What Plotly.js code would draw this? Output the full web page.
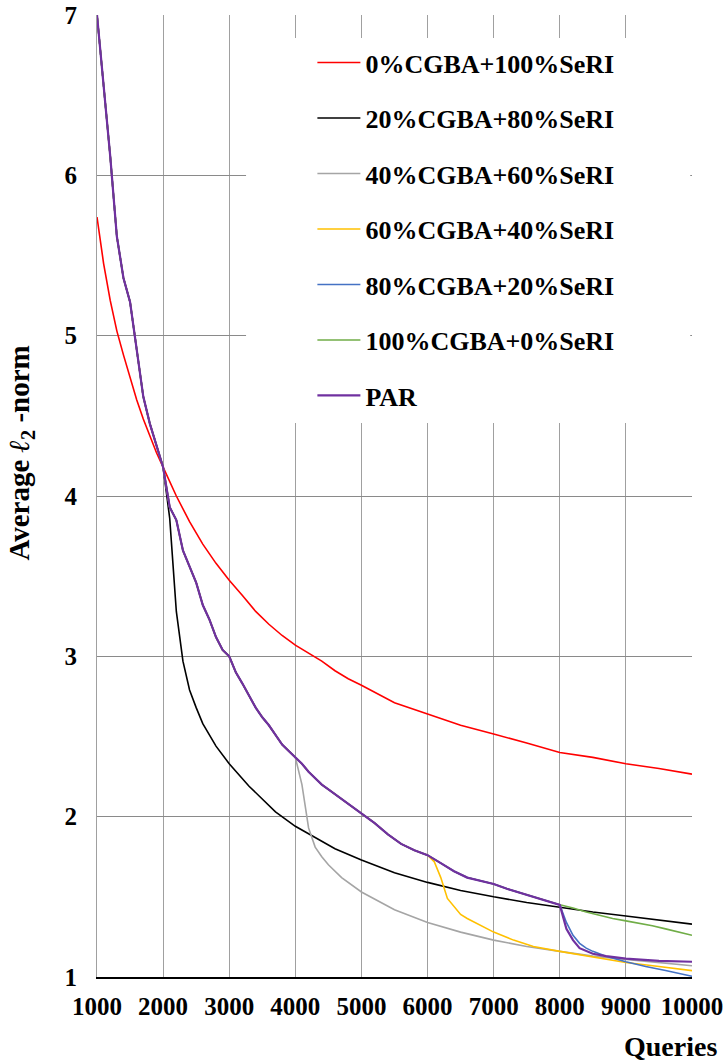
<!DOCTYPE html>
<html>
<head>
<meta charset="utf-8">
<script src="https://cdn.plot.ly/plotly-3.0.1.min.js"></script>
<style>
html,body{margin:0;padding:0;background:#fff;}
#chart{width:727px;height:1064px;}
#chart svg text, #chart svg tspan { font-family: "Liberation Serif", "Times New Roman", "DejaVu Serif" !important; }
</style>
</head>
<body>
<div id="chart"></div>
<script>
// ---- data ----
const seriesNames = ["0%CGBA+100%SeRI","20%CGBA+80%SeRI","40%CGBA+60%SeRI","60%CGBA+40%SeRI","80%CGBA+20%SeRI","100%CGBA+0%SeRI","PAR"];

// shared path (CGBA-driven run), 1000 .. 8000 queries
const baseX = [1000,1100,1200,1300,1400,1500,1600,1700,1800,1900,2000,2100,2200,2300,2400,2500,2600,2700,2800,2900,3000,3100,3200,3300,3400,3500,3600,3700,3800,3900,4000,4100,4200,4300,4400,4500,4600,4700,4800,4900,5000,5200,5400,5600,5800,6000,6200,6400,6600,6800,7000,7200,7400,7600,7800,8000];
const baseY = [7.00,6.56,6.12,5.62,5.36,5.21,4.92,4.62,4.45,4.32,4.18,3.93,3.85,3.66,3.56,3.46,3.32,3.23,3.12,3.04,3.00,2.90,2.83,2.75,2.68,2.62,2.57,2.51,2.45,2.41,2.37,2.33,2.28,2.24,2.20,2.17,2.14,2.11,2.08,2.05,2.02,1.96,1.89,1.83,1.79,1.76,1.71,1.66,1.62,1.60,1.58,1.55,1.525,1.50,1.475,1.45];

// 0%CGBA+100%SeRI
const redX = [1000,1100,1200,1300,1400,1500,1600,1700,1800,1900,2000,2200,2400,2600,2800,3000,3200,3400,3600,3800,4000,4200,4400,4600,4800,5000,5500,6000,6500,7000,7500,8000,8500,9000,9500,10000];
const redY = [5.74,5.45,5.22,5.03,4.88,4.74,4.60,4.48,4.37,4.27,4.18,4.00,3.84,3.70,3.58,3.475,3.38,3.28,3.20,3.13,3.07,3.02,2.97,2.91,2.86,2.82,2.71,2.64,2.57,2.515,2.46,2.40,2.37,2.33,2.30,2.265];

// 20%CGBA+80%SeRI : branch after 2000
const blackTailX = [2100,2200,2300,2400,2500,2600,2800,3000,3300,3700,4000,4300,4600,5000,5500,6000,6500,7000,7500,8000,8500,9000,9500,10000];
const blackTailY = [3.86,3.28,2.97,2.79,2.68,2.58,2.44,2.33,2.19,2.03,1.94,1.87,1.80,1.73,1.65,1.59,1.54,1.50,1.465,1.435,1.405,1.38,1.355,1.33];

// 40%CGBA+60%SeRI : branch after 4000
const grayTailX = [4100,4200,4300,4400,4500,4700,5000,5500,6000,6500,7000,7500,8000,8500,9000,9500,10000];
const grayTailY = [2.20,1.93,1.81,1.75,1.70,1.62,1.53,1.42,1.34,1.28,1.23,1.19,1.16,1.13,1.11,1.09,1.07];

// 60%CGBA+40%SeRI : branch after 6000
const yellowTailX = [6100,6200,6300,6400,6500,6600,6800,7000,7300,7600,8000,8500,9000,9500,10000];
const yellowTailY = [1.72,1.62,1.49,1.44,1.39,1.365,1.32,1.28,1.23,1.19,1.16,1.125,1.09,1.065,1.04];

// 80%CGBA+20%SeRI : branch after 8000
const blueTailX = [8100,8200,8300,8400,8500,8700,9000,9300,9600,10000];
const blueTailY = [1.34,1.26,1.21,1.18,1.16,1.13,1.095,1.065,1.04,1.005];

// 100%CGBA+0%SeRI : continues after 8000
const greenTailX = [8200,8400,8600,8800,9000,9200,9400,9600,9800,10000];
const greenTailY = [1.43,1.405,1.385,1.365,1.35,1.335,1.32,1.30,1.28,1.26];

// PAR : after 8000
const parTailX = [8100,8200,8300,8400,8500,8700,9000,9500,10000];
const parTailY = [1.30,1.23,1.18,1.16,1.145,1.13,1.115,1.10,1.095];

const xTicks = [1000,2000,3000,4000,5000,6000,7000,8000,9000,10000];
const yTicks = [1,2,3,4,5,6,7];

// ---- build series ----
function branch(upTo, tx, ty) {
  const n = baseX.indexOf(upTo) + 1;
  return {x: baseX.slice(0, n).concat(tx), y: baseY.slice(0, n).concat(ty)};
}
const blackS = branch(2000, blackTailX, blackTailY);
const grayS = branch(4000, grayTailX, grayTailY);
const yellowS = branch(6000, yellowTailX, yellowTailY);
const blueS = branch(8000, blueTailX, blueTailY);
const greenS = branch(8000, greenTailX, greenTailY);
const parS = branch(8000, parTailX, parTailY);

const colors = ["#FF0000","#000000","#A5A5A5","#FFC000","#4472C4","#70AD47","#7030A0"];
const widths = [1.6,1.6,1.6,1.6,1.6,1.6,2.2];
const seriesData = [{x: redX, y: redY}, blackS, grayS, yellowS, blueS, greenS, parS];

const traces = seriesData.map((s, i) => ({
  type: 'scatter', mode: 'lines',
  x: s.x, y: s.y, name: seriesNames[i],
  legendgroup: 'g' + i,
  line: {color: colors[i], width: widths[i]}
}));

const layout = {
  width: 727, height: 1064,
  margin: {l: 97, r: 35, t: 15, b: 87},
  font: {family: 'Liberation Serif', color: '#000000'},
  showlegend: true,
  legend: {
    x: 0.362, y: 0.975, xanchor: 'left', yanchor: 'top',
    font: {family: 'Liberation Serif', size: 26, weight: 700, color: '#000000'},
    tracegroupgap: 18.7, itemwidth: 43, traceorder: 'grouped'
  },
  xaxis: {
    range: [1000, 10000], tickvals: xTicks, ticktext: xTicks.map(String),
    showgrid: true, gridcolor: '#A0A0A0', gridwidth: 1,
    zeroline: false, showline: true, linecolor: '#000000', linewidth: 1.5,
    ticks: 'outside', ticklen: 6, tickcolor: '#ffffff',
    tickfont: {family: 'Liberation Serif', size: 25, weight: 700, color: '#000000'}
  },
  yaxis: {
    range: [1, 7], tickvals: yTicks, ticktext: yTicks.map(String),
    showgrid: true, gridcolor: '#8A8A8A', gridwidth: 1,
    zeroline: false, showline: true, linecolor: '#A0A0A0', linewidth: 1,
    ticks: 'outside', ticklen: 14, tickcolor: '#ffffff',
    tickfont: {family: 'Liberation Serif', size: 25, weight: 700, color: '#000000'}
  },
  shapes: [{
    type: 'rect', xref: 'paper', yref: 'paper',
    x0: 0.2505, x1: 0.997, y0: 0.576, y1: 0.976,
    fillcolor: '#ffffff', line: {width: 0}, layer: 'above'
  }],
  annotations: [
    {text: '<b>Average <i>ℓ</i><sub>2</sub> -norm</b>', xref: 'paper', yref: 'paper',
     x: -0.128, y: 0.545, xanchor: 'center', yanchor: 'middle', textangle: -90, showarrow: false,
     font: {family: 'Liberation Serif', size: 29, color: '#000000'}},
    {text: '<b>Queries</b>', xref: 'paper', yref: 'paper',
     x: 1.045, y: -0.072, xanchor: 'right', yanchor: 'middle', showarrow: false,
     font: {family: 'Liberation Serif', size: 28, color: '#000000'}}
  ]
};

Plotly.newPlot('chart', traces, layout, {staticPlot: true});
</script>
</body>
</html>
